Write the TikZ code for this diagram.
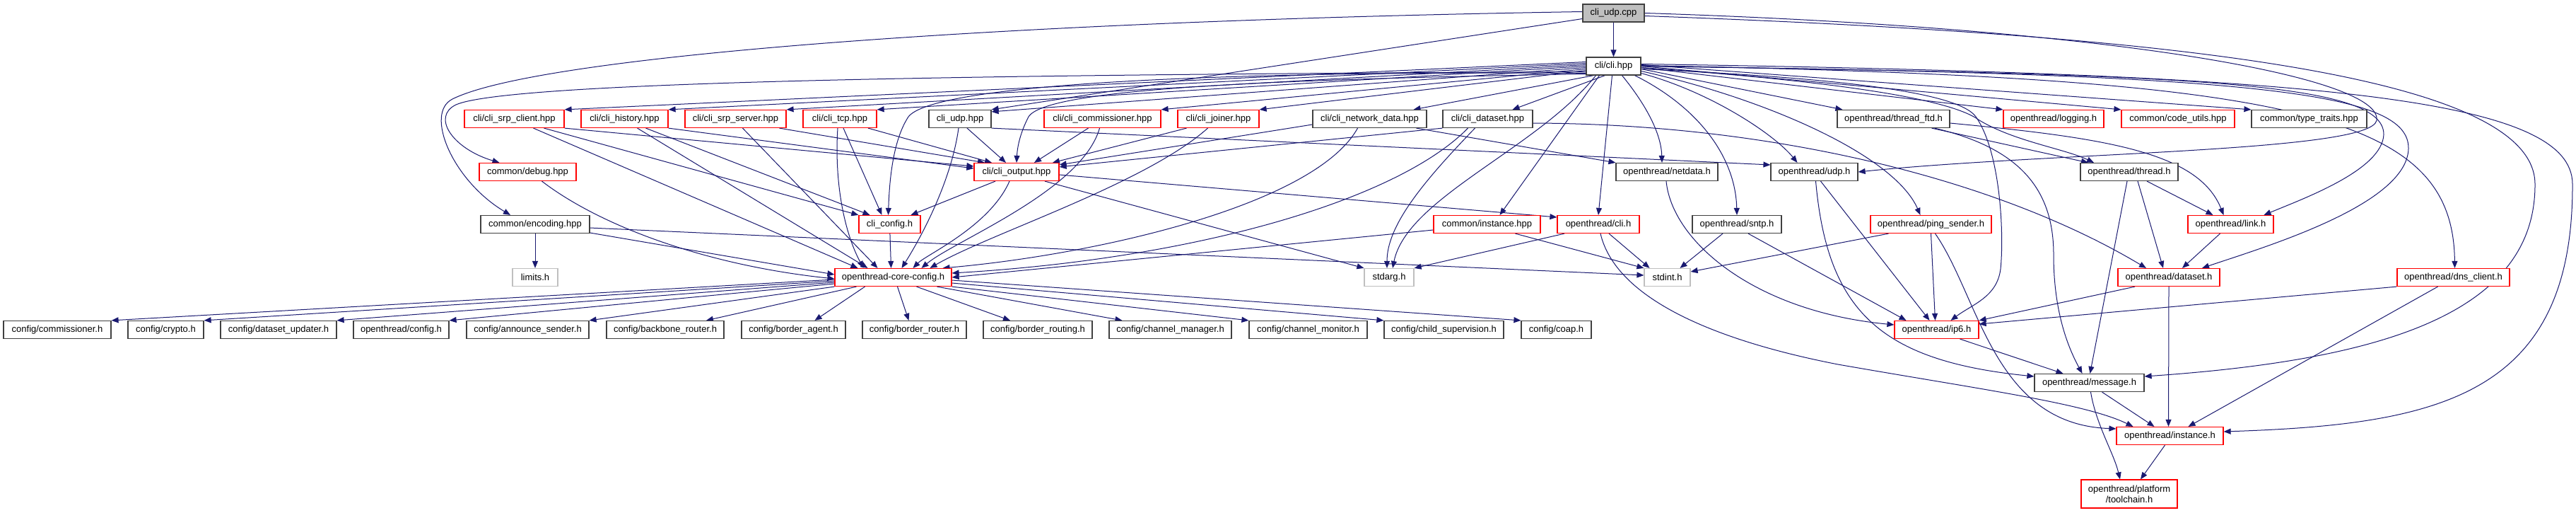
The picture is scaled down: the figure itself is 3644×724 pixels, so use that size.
\documentclass[tikz,border=0pt]{standalone}
\usepackage{fontspec}
\setmainfont{Liberation Sans}
\usetikzlibrary{arrows.meta}
\definecolor{mb}{HTML}{191970}
\definecolor{rd}{HTML}{FF0000}
\definecolor{dk}{HTML}{404040}
\definecolor{lg}{HTML}{BFBFBF}
\pgfdeclarelayer{bg}
\pgfsetlayers{bg,main}
\tikzset{
  box/.style={draw, fill=white, line width=1.2pt, minimum height=25pt, inner sep=0pt, font=\fontsize{13}{15}\selectfont, text=black},
  nb/.style={box, draw=dk},
  nr/.style={box, draw=rd},
  ng/.style={box, draw=lg},
  nroot/.style={box, draw=dk, fill=lg},
  e/.style={draw=mb, line width=1pt, -{Triangle[length=10pt,width=8pt]}},
}
\begin{document}
\begin{tikzpicture}[x=1pt,y=-1pt]
\useasboundingbox (0,0) rectangle (3644,724);
\begin{pgfonlayer}{bg}
\fill[white] (0,0) rectangle (3644,724);
\end{pgfonlayer}
% row 0,1
\node[nroot, minimum width=87pt] (root) at (2282.5,18.5) {cli\_udp.cpp};
\node[nb, minimum width=77pt] (clihpp) at (2282.5,93.5) {cli/cli.hpp};
% row 2
\node[nr, minimum width=141pt] (srpc) at (727.5,168) {cli/cli\_srp\_client.hpp};
\node[nr, minimum width=123pt] (hist) at (883.5,168) {cli/cli\_history.hpp};
\node[nr, minimum width=143pt] (srps) at (1040.5,168) {cli/cli\_srp\_server.hpp};
\node[nr, minimum width=104pt] (tcp) at (1188,168) {cli/cli\_tcp.hpp};
\node[nb, minimum width=88pt] (cliudphpp) at (1358,168) {cli\_udp.hpp};
\node[nr, minimum width=165pt] (comm) at (1559.5,168) {cli/cli\_commissioner.hpp};
\node[nr, minimum width=115pt] (joiner) at (1723.5,168) {cli/cli\_joiner.hpp};
\node[nb, minimum width=161pt] (netdatahpp) at (1937.5,168) {cli/cli\_network\_data.hpp};
\node[nb, minimum width=127pt] (datasethpp) at (2104.5,168) {cli/cli\_dataset.hpp};
\node[nb, minimum width=159pt] (threadftd) at (2678.5,168) {openthread/thread\_ftd.h};
\node[nr, minimum width=142pt] (logging) at (2905,168) {openthread/logging.h};
\node[nr, minimum width=160pt] (codeutils) at (3081,168) {common/code\_utils.hpp};
\node[nb, minimum width=163pt] (typetraits) at (3266.5,168) {common/type\_traits.hpp};
% row 3
\node[nr, minimum width=137pt] (debug) at (746.5,243) {common/debug.hpp};
\node[nr, minimum width=120pt] (output) at (1438,243) {cli/cli\_output.hpp};
\node[nb, minimum width=144pt] (netdatah) at (2358,243) {openthread/netdata.h};
\node[nb, minimum width=123pt] (udph) at (2566.5,243) {openthread/udp.h};
\node[nb, minimum width=138pt] (threadh) at (3012,243) {openthread/thread.h};
% row 4
\node[nb, minimum width=154pt] (encoding) at (757,317) {common/encoding.hpp};
\node[nr, minimum width=87pt] (cliconfig) at (1258.5,317) {cli\_config.h};
\node[nr, minimum width=151pt] (instancehpp) at (2103.5,317) {common/instance.hpp};
\node[nr, minimum width=116pt] (clih) at (2261,317) {openthread/cli.h};
\node[nb, minimum width=126pt] (sntp) at (2457,317) {openthread/sntp.h};
\node[nr, minimum width=171pt] (ping) at (2731.5,317) {openthread/ping\_sender.h};
\node[nr, minimum width=121pt] (link) at (3155.5,317) {openthread/link.h};
% row 5
\node[ng, minimum width=64pt] (limits) at (757,392) {limits.h};
\node[nr, minimum width=165pt] (coreconfig) at (1263.5,392) {openthread-core-config.h};
\node[ng, minimum width=70pt] (stdarg) at (1965,392) {stdarg.h};
\node[ng, minimum width=65pt] (stdint) at (2358.5,392) {stdint.h};
\node[nr, minimum width=144pt] (dataseth) at (3068,392) {openthread/dataset.h};
\node[nr, minimum width=159pt] (dns) at (3470.5,392) {openthread/dns\_client.h};
% row 6
\node[nb, minimum width=152pt] (c1) at (81,466) {config/commissioner.h};
\node[nb, minimum width=107pt] (c2) at (234.5,466) {config/crypto.h};
\node[nb, minimum width=164pt] (c3) at (394,466) {config/dataset\_updater.h};
\node[nb, minimum width=135pt] (otconfig) at (567.5,466) {openthread/config.h};
\node[nb, minimum width=173pt] (c5) at (746.5,466) {config/announce\_sender.h};
\node[nb, minimum width=166pt] (c6) at (941,466) {config/backbone\_router.h};
\node[nb, minimum width=147pt] (c7) at (1122.5,466) {config/border\_agent.h};
\node[nb, minimum width=147pt] (c8) at (1293.5,466) {config/border\_router.h};
\node[nb, minimum width=154pt] (c9) at (1468,466) {config/border\_routing.h};
\node[nb, minimum width=173pt] (c10) at (1655.5,466) {config/channel\_manager.h};
\node[nb, minimum width=167pt] (c11) at (1850.5,466) {config/channel\_monitor.h};
\node[nb, minimum width=169pt] (c12) at (2042.5,466) {config/child\_supervision.h};
\node[nb, minimum width=99pt] (c13) at (2201.5,466) {config/coap.h};
\node[nr, minimum width=119pt] (ip6) at (2739.5,466) {openthread/ip6.h};
% rows 7-9
\node[nb, minimum width=155pt] (message) at (2955.5,541) {openthread/message.h};
\node[nr, minimum width=151pt] (instanceh) at (3069.5,616) {openthread/instance.h};
\node[nr, minimum width=136pt, minimum height=40pt, align=center] (toolchain) at (3012,698) {openthread/platform\\/toolchain.h};

\begin{pgfonlayer}{bg}
% root
\draw[e] (root) -- (clihpp);
\draw[e] ([yshift=-8pt]root.west) -- (cliudphpp.north east);
\draw[e] ([yshift=2pt]root.west) .. controls (1400,30) and (760,80) .. (640,140) .. controls (600,160) and (640,255) .. ([xshift=-35pt]encoding.north);
\draw[e] (root.east) .. controls (3000,40) and (3370,110) .. (3362,170) .. controls (3355,215) and (2900,215) .. (udph.east);
\draw[e] ([yshift=-4pt]root.east) .. controls (3100,50) and (3585,110) .. (3586,260) .. controls (3587,450) and (3350,510) .. ([yshift=9pt]message.east);
% cli.hpp left row 2
\draw[e] ([yshift=6pt]clihpp.west) -- (srpc.north east);
\draw[e] ([yshift=4pt]clihpp.west) -- (hist.north east);
\draw[e] ([yshift=2pt]clihpp.west) -- (srps.north east);
\draw[e] (clihpp.west) -- (tcp.north east);
\draw[e] ([yshift=-2pt]clihpp.west) -- ([yshift=-3pt]cliudphpp.north east);
\draw[e] ([yshift=-4pt]clihpp.west) -- (comm.north east);
\draw[e] ([yshift=-6pt]clihpp.west) -- (joiner.north east);
\draw[e] ([xshift=-28pt]clihpp.south) -- ([xshift=62pt]netdatahpp.north);
\draw[e] ([xshift=-12pt]clihpp.south) -- ([xshift=35pt]datasethpp.north);
% cli.hpp right row 2
\draw[e] ([yshift=-4pt]clihpp.east) -- ([xshift=8pt]threadftd.north west);
\draw[e] ([yshift=-2pt]clihpp.east) -- (logging.north west);
\draw[e] (clihpp.east) -- (codeutils.north west);
\draw[e] ([yshift=2pt]clihpp.east) -- (typetraits.north west);
% cli.hpp curves
\draw[e] ([yshift=-8pt]clihpp.west) .. controls (1400,105) and (720,115) .. (645,148) .. controls (610,165) and (640,210) .. ([xshift=-40pt]debug.north);
\draw[e] ([yshift=-10pt]clihpp.west) .. controls (1700,100) and (1320,120) .. (1285,165) .. controls (1262,200) and (1258,260) .. ([xshift=-2pt]cliconfig.north);
\draw[e] ([yshift=-11pt]clihpp.west) .. controls (1800,112) and (1480,125) .. (1455,165) .. controls (1442,190) and (1439,210) .. (output.north);
\draw[e] ([xshift=12pt]clihpp.south) .. controls (2330,150) and (2350,190) .. ([xshift=-7pt]netdatah.north);
\draw[e] ([xshift=-2pt]clihpp.south) -- (clih.north);
\draw[e] ([xshift=-20pt]clihpp.south) -- ([xshift=18pt]instancehpp.north);
\draw[e] ([xshift=-25pt]clihpp.south) .. controls (2175,210) and (1990,280) .. ([xshift=5pt]stdarg.north);
\draw[e] ([xshift=30pt]clihpp.south) .. controls (2400,150) and (2455,220) .. (sntp.north);
\draw[e] ([yshift=-10pt]clihpp.east) .. controls (2420,130) and (2510,190) .. ([xshift=-24pt]udph.north);
\draw[e] ([yshift=-7pt]clihpp.east) .. controls (2500,140) and (2680,220) .. ([xshift=-15pt]ping.north);
\draw[e] ([yshift=-4pt]clihpp.east) .. controls (2600,110) and (2770,130) .. (2795,165) .. controls (2830,215) and (2835,330) .. (2830,380) .. controls (2825,420) and (2790,430) .. ([xshift=20pt]ip6.north);
\draw[e] ([yshift=-2pt]clihpp.east) .. controls (2600,115) and (2760,140) .. (2800,170) .. controls (2850,200) and (2920,210) .. ([xshift=-50pt]threadh.north);
\draw[e] (clihpp.east) .. controls (3100,105) and (3372,115) .. (3372,190) .. controls (3370,240) and (3260,280) .. ([xshift=47pt]link.north);
\draw[e] (clihpp.east) .. controls (3200,105) and (3408,130) .. (3407,210) .. controls (3405,290) and (3200,350) .. ([xshift=47pt]dataseth.north);
\draw[e] ([yshift=1pt]clihpp.east) .. controls (3250,110) and (3470,160) .. ([xshift=2pt]dns.north);
\draw[e] ([yshift=3pt]clihpp.east) .. controls (3300,105) and (3638,140) .. (3639,260) .. controls (3640,560) and (3450,600) .. ([yshift=6pt]instanceh.east);
% row 2 down
\draw[e] (srpc.south east) -- ([yshift=8pt]output.west);
\draw[e] ([xshift=42pt]srpc.south) -- (cliconfig.north west);
\draw[e] ([xshift=27pt]srpc.south) -- ([xshift=-50pt]coreconfig.north);
\draw[e] (hist.south east) -- ([yshift=5pt]output.west);
\draw[e] ([xshift=30pt]hist.south) -- ([xshift=-28pt]cliconfig.north);
\draw[e] ([xshift=18pt]hist.south) -- ([xshift=-36pt]coreconfig.north);
\draw[e] ([xshift=62pt]srps.south) -- ([xshift=-45pt]output.north);
\draw[e] ([xshift=10pt]srps.south) -- ([xshift=-22pt]coreconfig.north);
\draw[e] ([xshift=40pt]tcp.south) -- ([xshift=-35pt]output.north);
\draw[e] ([xshift=5pt]tcp.south) -- ([xshift=-11pt]cliconfig.north);
\draw[e] ([xshift=-3pt]tcp.south) .. controls (1180,260) and (1195,330) .. ([xshift=-42pt]coreconfig.north);
\draw[e] ([xshift=10pt]cliudphpp.south) -- ([xshift=-15pt]output.north);
\draw[e] ([xshift=-2pt]cliudphpp.south) .. controls (1345,260) and (1300,340) .. ([xshift=12pt]coreconfig.north);
\draw[e] (cliudphpp.south east) -- ([yshift=10pt]udph.west);
\draw[e] ([xshift=-20pt]comm.south) -- ([xshift=25pt]output.north);
\draw[e] ([xshift=-4pt]comm.south) .. controls (1530,270) and (1350,340) .. ([xshift=40pt]coreconfig.north);
\draw[e] ([xshift=-45pt]joiner.south) -- ([xshift=51pt]output.north);
\draw[e] ([xshift=-15pt]joiner.south) .. controls (1620,260) and (1400,330) .. ([xshift=52pt]coreconfig.north);
\draw[e] ([yshift=-8pt]netdatahpp.west) -- ([yshift=-3pt]output.north east);
\draw[e] ([xshift=66pt]netdatahpp.south) -- (netdatah.north west);
\draw[e] ([xshift=-17pt]netdatahpp.south) .. controls (1860,290) and (1550,360) .. ([xshift=70pt]coreconfig.north);
\draw[e] (datasethpp.south west) -- ([yshift=-6pt]output.north east);
\draw[e] ([xshift=-28pt]datasethpp.south) .. controls (1980,280) and (1700,365) .. ([yshift=6pt]coreconfig.east);
\draw[e] ([xshift=-18pt]datasethpp.south) .. controls (2010,260) and (1962,320) .. ([xshift=-3pt]stdarg.north);
\draw[e] ([yshift=-6pt]datasethpp.east) .. controls (2500,175) and (2820,250) .. ([xshift=-32pt]dataseth.north);
% row 3
\draw[e] ([xshift=-30pt]output.south) -- ([xshift=30pt]cliconfig.north);
\draw[e] ([xshift=-10pt]output.south) .. controls (1400,320) and (1310,360) .. ([xshift=28pt]coreconfig.north);
\draw[e] ([yshift=-4pt]output.east) -- ([yshift=10pt]clih.west);
\draw[e] ([xshift=40pt]output.south) -- (stdarg.north west);
\draw[e] ([xshift=20pt]debug.south) .. controls (850,320) and (1000,375) .. ([yshift=-2pt]coreconfig.west);
\draw[e] ([xshift=-1pt]netdatah.south) .. controls (2365,340) and (2480,440) .. ([yshift=7pt]ip6.west);
\draw[e] ([xshift=9pt]udph.south) -- ([xshift=-10pt]ip6.north);
\draw[e] ([xshift=2pt]udph.south) .. controls (2585,440) and (2660,510) .. ([yshift=9pt]message.west);
\draw[e] ([xshift=54pt]threadftd.south) -- ([xshift=-58pt]threadh.north);
\draw[e] ([yshift=-6pt]threadftd.east) .. controls (2980,195) and (3110,215) .. ([xshift=-10pt]link.north);
\draw[e] ([xshift=58pt]threadftd.south) .. controls (2860,210) and (2905,270) .. (2905,360) .. controls (2905,440) and (2925,490) .. ([xshift=-10pt]message.north);
\draw[e] ([xshift=25pt]threadh.south) -- ([xshift=-25pt]link.north);
\draw[e] ([xshift=12pt]threadh.south) -- ([xshift=-8pt]dataseth.north);
\draw[e] ([xshift=-3pt]threadh.south) -- ([xshift=1pt]message.north);
% row 4
\draw[e] ([yshift=-12pt]encoding.east) -- ([yshift=4pt]coreconfig.west);
\draw[e] ([yshift=-5pt]encoding.east) -- ([yshift=3pt]stdint.west);
\draw[e] (encoding) -- (limits);
\draw[e] (cliconfig) -- ([xshift=-3pt]coreconfig.north);
\draw[e] ([yshift=-8pt]instancehpp.west) -- (coreconfig.east);
\draw[e] ([xshift=40pt]instancehpp.south) -- (stdint.north west);
\draw[e] ([xshift=-48pt]clih.south) -- (stdarg.north east);
\draw[e] ([xshift=15pt]clih.south) -- ([xshift=-25pt]stdint.north);
\draw[e] ([xshift=3pt]clih.south) .. controls (2285,420) and (2420,480) .. (2600,515) .. controls (2800,550) and (2950,570) .. ([xshift=-52pt]instanceh.north);
\draw[e] ([xshift=-20pt]sntp.south) -- ([xshift=18pt]stdint.north);
\draw[e] ([xshift=16pt]sntp.south) -- ([xshift=-43pt]ip6.north);
\draw[e] ([xshift=-60pt]ping.south) -- ([yshift=8pt]stdint.east);
\draw[e] (ping.south) -- ([xshift=-2pt]ip6.north);
\draw[e] ([xshift=6pt]ping.south) .. controls (2800,420) and (2820,600) .. ([yshift=-3pt]instanceh.north west);
\draw[e] ([xshift=-15pt]link.south) -- ([xshift=19pt]dataseth.north);
% row 5
\draw[e] ([xshift=-48pt]dataseth.south) -- (ip6.north east);
\draw[e] (dataseth.south) -- ([xshift=-2pt]instanceh.north);
\draw[e] (dns.south west) -- ([yshift=8pt]ip6.east);
\draw[e] ([xshift=-22pt]dns.south) -- ([xshift=26pt]instanceh.north);
\draw[e] ([yshift=-3pt]coreconfig.west) -- (c1.north east);
\draw[e] ([yshift=-5pt]coreconfig.west) -- (c2.north east);
\draw[e] ([yshift=-7pt]coreconfig.west) -- (c3.north east);
\draw[e] ([yshift=-9pt]coreconfig.west) -- (otconfig.north east);
\draw[e] (coreconfig.south west) -- (c5.north east);
\draw[e] ([xshift=-52pt]coreconfig.south) -- ([xshift=58pt]c6.north);
\draw[e] ([xshift=-40pt]coreconfig.south) -- ([xshift=30pt]c7.north);
\draw[e] ([xshift=6pt]coreconfig.south) -- ([xshift=-8pt]c8.north);
\draw[e] ([xshift=33pt]coreconfig.south) -- ([xshift=-39pt]c9.north);
\draw[e] ([xshift=62pt]coreconfig.south) -- ([xshift=-68pt]c10.north);
\draw[e] (coreconfig.south east) -- (c11.north west);
\draw[e] ([yshift=-8pt]coreconfig.east) -- (c12.north west);
\draw[e] ([yshift=-4pt]coreconfig.east) -- (c13.north west);
% rows 6-8
\draw[e] ([xshift=33pt]ip6.south) -- ([xshift=-37pt]message.north);
\draw[e] ([xshift=18pt]message.south) -- ([xshift=-22pt]instanceh.north);
\draw[e] ([xshift=2pt]message.south) .. controls (2965,600) and (2990,640) .. ([xshift=-13pt]toolchain.north);
\draw[e] ([xshift=-7pt]instanceh.south) -- ([xshift=16pt]toolchain.north);
\end{pgfonlayer}
\end{tikzpicture}
\end{document}
